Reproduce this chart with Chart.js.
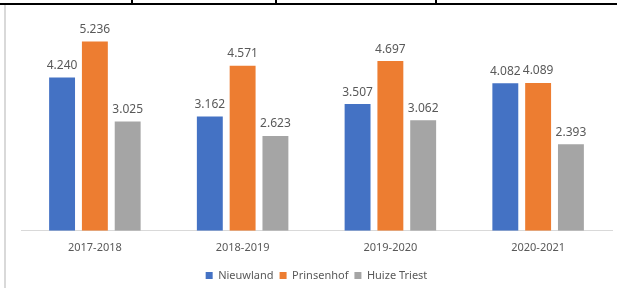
<!DOCTYPE html>
<html>
<head>
<meta charset="utf-8">
<script src="https://cdn.jsdelivr.net/npm/chart.js@4"></script>
<style>
  html, body { margin: 0; padding: 0; background: #fff; }
  body { width: 617px; height: 288px; position: relative; overflow: hidden; }
  .topline { position: absolute; left: 0; top: 3px; width: 617px; height: 2px; background: #000; }
  .tick { position: absolute; top: 0; width: 2px; height: 4px; background: #000; }
  .leftline { position: absolute; left: 4px; top: 5px; width: 2px; height: 283px; background: #d9d9d9; }
  #wrap { position: absolute; left: 7px; top: 6px; width: 610px; height: 285px; }
</style>
</head>
<body>
<div class="topline"></div>
<div class="tick" style="left:131px"></div>
<div class="tick" style="left:275px"></div>
<div class="tick" style="left:435px"></div>
<div class="leftline"></div>
<div id="wrap"><canvas id="chart"></canvas></div>
<script>
const years = ['2017-2018', '2018-2019', '2019-2020', '2020-2021'];
const nieuwland = [4.240, 3.162, 3.507, 4.082];
const prinsenhof = [5.236, 4.571, 4.697, 4.089];
const huizeTriest = [3.025, 2.623, 3.062, 2.393];

const FONT = "'Noto Sans', 'Open Sans', sans-serif";

// draw the value above each bar
const valueLabels = {
  id: 'valueLabels',
  afterDatasetsDraw(chart) {
    const ctx = chart.ctx;
    ctx.save();
    ctx.font = '12px ' + FONT;
    ctx.fillStyle = '#595959';
    ctx.textAlign = 'center';
    ctx.textBaseline = 'middle';
    chart.data.datasets.forEach((ds, i) => {
      const meta = chart.getDatasetMeta(i);
      meta.data.forEach((bar, j) => {
        ctx.fillText(ds.data[j].toFixed(3), bar.x, bar.y - 12);
      });
    });
    ctx.restore();
  }
};

new Chart(document.getElementById('chart'), {
  type: 'bar',
  data: {
    labels: years,
    datasets: [
      { label: 'Nieuwland', data: nieuwland, backgroundColor: '#4472C4' },
      { label: 'Prinsenhof', data: prinsenhof, backgroundColor: '#ED7D31' },
      { label: 'Huize Triest', data: huizeTriest, backgroundColor: '#A5A5A5' }
    ]
  },
  options: {
    responsive: true,
    maintainAspectRatio: false,
    animation: false,
    datasets: { bar: { categoryPercentage: 0.666, barPercentage: 0.79 } },
    layout: { padding: { left: 14, right: 5, top: 8, bottom: 0 } },
    scales: {
      y: { display: false, min: 0, max: 6 },
      x: {
        grid: { display: false, drawTicks: false, tickLength: 0 },
        border: { display: true, color: '#d9d9d9', width: 1 },
        ticks: { color: '#595959', font: { family: FONT, size: 11 }, padding: 10 }
      }
    },
    plugins: {
      tooltip: { enabled: false },
      legend: {
        position: 'bottom',
        labels: {
          color: '#595959',
          font: { family: FONT, size: 11 },
          boxWidth: 7,
          boxHeight: 7,
          padding: 6
        }
      }
    }
  },
  plugins: [valueLabels]
});
</script>
</body>
</html>
